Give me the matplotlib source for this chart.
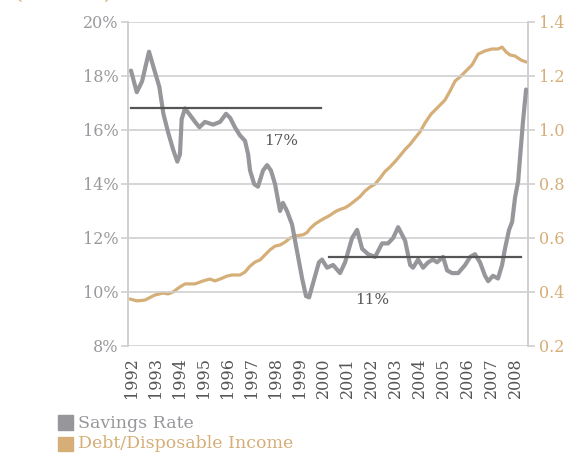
import matplotlib
matplotlib.use("Agg")
import matplotlib.pyplot as plt
from matplotlib.patches import Rectangle

plt.rcParams['font.family'] = ['DejaVu Serif']

# savings rate (%), left axis
sav_year = [1992.00, 1992.24, 1992.46, 1992.75, 1992.93, 1993.18, 1993.35, 1993.55, 1993.76, 1993.93,
            1994.04, 1994.11, 1994.25, 1994.46, 1994.67, 1994.85, 1995.08, 1995.42, 1995.71, 1995.96,
            1996.13, 1996.33, 1996.54, 1996.75, 1996.88, 1996.96, 1997.13, 1997.29, 1997.50, 1997.67,
            1997.83, 1998.00, 1998.21, 1998.33, 1998.50, 1998.71, 1998.92, 1999.13, 1999.29, 1999.42,
            1999.67, 1999.83, 1999.96, 2000.17, 2000.42, 2000.71, 2000.92, 2001.21, 2001.42, 2001.63,
            2001.88, 2002.17, 2002.46, 2002.71, 2002.92, 2003.13, 2003.42, 2003.63, 2003.75, 2003.96,
            2004.17, 2004.38, 2004.58, 2004.75, 2005.00, 2005.17, 2005.38, 2005.63, 2005.92, 2006.13,
            2006.33, 2006.54, 2006.75, 2006.88, 2007.08, 2007.29, 2007.46, 2007.58, 2007.75, 2007.88,
            2008.00, 2008.13, 2008.21, 2008.33, 2008.46]
sav_rate = [18.2, 17.4, 17.8, 18.9, 18.35, 17.6, 16.6, 15.9, 15.26, 14.83,
            15.1, 16.4, 16.8, 16.55, 16.3, 16.1, 16.3, 16.2, 16.3, 16.6,
            16.45, 16.1, 15.8, 15.6, 15.1, 14.5, 14.0, 13.9, 14.5, 14.7,
            14.5, 14.0, 13.0, 13.3, 13.0, 12.5, 11.5, 10.5, 9.85, 9.8,
            10.6, 11.1, 11.2, 10.9, 11.0, 10.7, 11.1, 12.0, 12.3, 11.6,
            11.4, 11.3, 11.8, 11.8, 12.0, 12.4, 11.9, 11.0, 10.9, 11.2,
            10.9, 11.1, 11.2, 11.1, 11.3, 10.8, 10.7, 10.7, 11.0, 11.3,
            11.4, 11.1, 10.6, 10.4, 10.6, 10.5, 11.0, 11.6, 12.3, 12.6,
            13.5, 14.1, 15.0, 16.3, 17.5]

# debt / disposable income, right axis
debt_year = [1991.96, 1992.25, 1992.58, 1993.00, 1993.33, 1993.54, 1993.75, 1994.04, 1994.25, 1994.67,
             1995.00, 1995.29, 1995.50, 1995.71, 1996.00, 1996.21, 1996.54, 1996.75, 1996.96, 1997.17,
             1997.38, 1997.58, 1997.79, 1998.00, 1998.21, 1998.42, 1998.63, 1998.83, 1999.17, 1999.33,
             1999.46, 1999.67, 1999.88, 2000.08, 2000.29, 2000.50, 2000.71, 2000.92, 2001.13, 2001.33,
             2001.54, 2001.75, 2001.96, 2002.17, 2002.38, 2002.58, 2002.79, 2003.00, 2003.21, 2003.42,
             2003.63, 2003.83, 2004.04, 2004.25, 2004.50, 2004.75, 2005.08, 2005.29, 2005.50, 2005.75,
             2005.96, 2006.21, 2006.46, 2006.75, 2007.04, 2007.29, 2007.46, 2007.63, 2007.79, 2008.00,
             2008.25, 2008.46]
debt_ratio = [0.374, 0.367, 0.370, 0.389, 0.396, 0.393, 0.400, 0.419, 0.430, 0.430,
              0.441, 0.448, 0.441, 0.448, 0.459, 0.463, 0.463, 0.474, 0.496, 0.511,
              0.519, 0.537, 0.556, 0.570, 0.574, 0.585, 0.600, 0.607, 0.612, 0.620,
              0.635, 0.652, 0.664, 0.674, 0.684, 0.697, 0.706, 0.712, 0.724, 0.738,
              0.753, 0.774, 0.789, 0.800, 0.822, 0.846, 0.863, 0.883, 0.905, 0.928,
              0.947, 0.970, 0.993, 1.026, 1.059, 1.081, 1.111, 1.144, 1.181, 1.200,
              1.219, 1.241, 1.281, 1.293, 1.300, 1.300, 1.307, 1.289, 1.278, 1.274,
              1.259, 1.252]

# period averages
avg_start = [1992.0, 2000.25]
avg_end = [1999.92, 2008.25]
avg_val = [16.8, 11.3]
avg_label = ['17%', '11%']
avg_label_pos = [(1998.25, 15.6), (2002.05, 9.7)]

years = list(range(1992, 2009))
left_ticks = [8, 10, 12, 14, 16, 18, 20]
right_ticks = [0.2, 0.4, 0.6, 0.8, 1.0, 1.2, 1.4]

gray = '#97979b'
tan = '#d5ae78'
dark = '#555555'
grid_c = '#cfcfcf'

fig = plt.figure(figsize=(5.73, 4.54), dpi=100)
ax = fig.add_axes([128/573, 1-346/454, 400/573, 324/454])
ax2 = ax.twinx()

ax.set_xlim(1991.875, 2008.54)
ax.set_ylim(8, 20)
ax2.set_ylim(0.2, 1.4)

for v in left_ticks:
    ax.axhline(v, color=grid_c, lw=1.2, zorder=0)

ax2.plot(debt_year, debt_ratio, color=tan, lw=2.3, solid_capstyle='round', zorder=2)
ax.plot(sav_year, sav_rate, color=gray, lw=3.0, solid_capstyle='round', zorder=3)
ax.set_zorder(ax2.get_zorder() + 1)
ax.patch.set_visible(False)

for s, e, v in zip(avg_start, avg_end, avg_val):
    ax.plot([s, e], [v, v], color=dark, lw=1.6, zorder=4)
for lab, (px, py) in zip(avg_label, avg_label_pos):
    ax.text(px, py, lab, color=dark, fontsize=11, ha='center', va='center')

ax.set_yticks(left_ticks)
ax.set_yticklabels([f'{v}%' for v in left_ticks])
ax2.set_yticks(right_ticks)
ax2.set_yticklabels([f'{v:.1f}' for v in right_ticks])
ax.set_xticks(years)
ax.set_xticklabels([str(y) for y in years], rotation=90)

ax.tick_params(axis='y', colors=grid_c, labelcolor='#9a9a9e', labelsize=11.5, length=5, width=1.2, pad=2)
ax2.tick_params(axis='y', colors=grid_c, labelcolor=tan, labelsize=11.5, length=5, width=1.2, pad=3)
ax.tick_params(axis='x', length=0, labelcolor=dark, labelsize=11.5, pad=8)

for a in (ax, ax2):
    for side in a.spines:
        a.spines[side].set_visible(False)
    a.spines['left'].set_visible(True)
    a.spines['right'].set_visible(True)
    a.spines['left'].set_color(grid_c)
    a.spines['right'].set_color(grid_c)
    a.spines['left'].set_linewidth(1.2)
    a.spines['right'].set_linewidth(1.2)

# legend
fig.patches.append(Rectangle((58/573, 1-430/454), 15/573, 15/454, transform=fig.transFigure, color=gray))
fig.patches.append(Rectangle((58/573, 1-451/454), 15/573, 14/454, transform=fig.transFigure, color=tan))
fig.text(78/573, 1-423/454, 'Savings Rate', color=gray, fontsize=12.5, va='center')
fig.text(78/573, 1-444/454, 'Debt/Disposable Income', color=tan, fontsize=12.5, va='center')

# clipped subtitle at the top edge
fig.text(14/573, 1+1/454, '(Percent)', color=tan, fontsize=15, va='baseline')

fig.savefig('out.png', dpi=100)
